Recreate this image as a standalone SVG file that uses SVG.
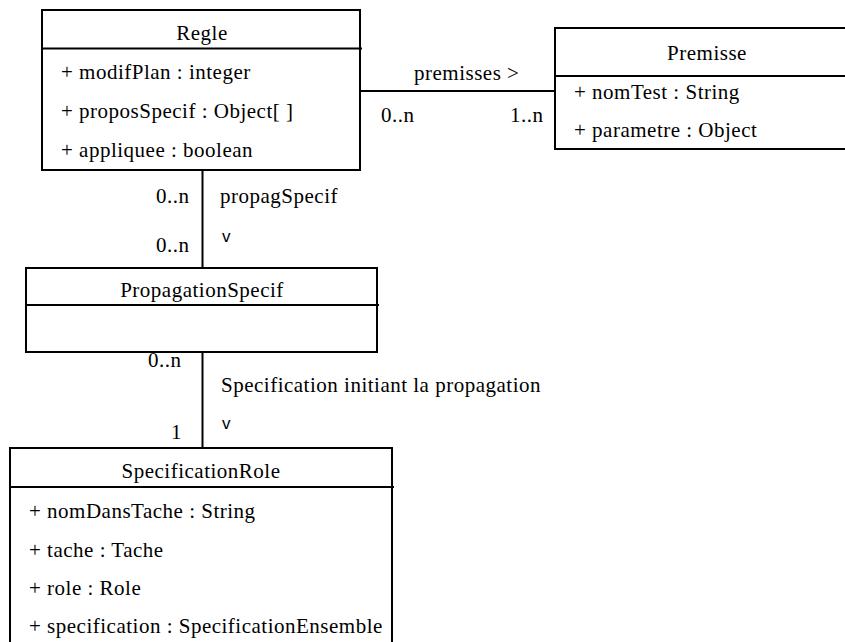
<svg xmlns="http://www.w3.org/2000/svg" width="845" height="642" viewBox="0 0 845 642">
  <style>
    .box { fill: #ffffff; stroke: #000000; stroke-width: 2; }
    .sep { stroke: #000000; stroke-width: 2; fill: none; }
    .conn { stroke: #000000; stroke-width: 2; fill: none; }
  </style>
  <rect x="0" y="0" width="845" height="642" fill="#ffffff"/>

  <g id="connectors">
    <line class="conn" x1="361" y1="91" x2="555" y2="91"/>
    <line class="conn" x1="202.5" y1="170" x2="202.5" y2="268"/>
    <line class="conn" x1="202.5" y1="353" x2="202.5" y2="448"/>
    <text style="font-family:'Liberation Serif',serif;font-size:21px;letter-spacing:0.5px" x="414" y="80">premisses &gt;</text>
    <text style="font-family:'Liberation Serif',serif;font-size:21px;letter-spacing:0.5px" x="381" y="122">0..n</text>
    <text style="font-family:'Liberation Serif',serif;font-size:21px;letter-spacing:0.5px" x="510" y="122">1..n</text>
    <text style="font-family:'Liberation Serif',serif;font-size:21px;letter-spacing:0.5px" x="156" y="203">0..n</text>
    <text style="font-family:'Liberation Serif',serif;font-size:21px;letter-spacing:0.5px" x="220" y="203">propagSpecif</text>
    <text style="font-family:'Liberation Sans',sans-serif;font-size:17px" x="222" y="242">v</text>
    <text style="font-family:'Liberation Serif',serif;font-size:21px;letter-spacing:0.5px" x="156" y="252">0..n</text>
    <text style="font-family:'Liberation Serif',serif;font-size:21px;letter-spacing:0.5px" x="148" y="367">0..n</text>
    <text style="font-family:'Liberation Serif',serif;font-size:21px;letter-spacing:0.5px" x="221" y="392">Specification initiant la propagation</text>
    <text style="font-family:'Liberation Sans',sans-serif;font-size:17px" x="222" y="429">v</text>
    <text style="font-family:'Liberation Serif',serif;font-size:21px;letter-spacing:0.5px" x="171" y="439">1</text>
  </g>

  <g id="Regle">
    <rect class="box" x="42" y="10" width="318" height="160"/>
    <line class="sep" x1="42" y1="48.5" x2="362" y2="48.5"/>
    <text style="font-family:'Liberation Serif',serif;font-size:21px;letter-spacing:0.5px;text-anchor:middle" x="202" y="40">Regle</text>
    <text style="font-family:'Liberation Serif',serif;font-size:21px;letter-spacing:0.5px" x="61" y="79">+ modifPlan : integer</text>
    <text style="font-family:'Liberation Serif',serif;font-size:21px;letter-spacing:0.5px" x="61" y="118">+ proposSpecif : Object[ ]</text>
    <text style="font-family:'Liberation Serif',serif;font-size:21px;letter-spacing:0.5px" x="61" y="157">+ appliquee : boolean</text>
  </g>

  <g id="Premisse">
    <rect class="box" x="555" y="28" width="340" height="121"/>
    <line class="sep" x1="555" y1="76" x2="895" y2="76"/>
    <text style="font-family:'Liberation Serif',serif;font-size:21px;letter-spacing:0.5px;text-anchor:middle" x="707" y="60">Premisse</text>
    <text style="font-family:'Liberation Serif',serif;font-size:21px;letter-spacing:0.5px" x="574" y="99">+ nomTest : String</text>
    <text style="font-family:'Liberation Serif',serif;font-size:21px;letter-spacing:0.5px" x="574" y="137">+ parametre : Object</text>
  </g>

  <g id="PropagationSpecif">
    <rect class="box" x="26" y="268" width="351" height="84"/>
    <line class="sep" x1="26" y1="305" x2="379" y2="305"/>
    <text style="font-family:'Liberation Serif',serif;font-size:21px;letter-spacing:0.5px;text-anchor:middle" x="202" y="297">PropagationSpecif</text>
  </g>

  <g id="SpecificationRole">
    <rect class="box" x="10" y="448" width="382" height="220"/>
    <line class="sep" x1="10" y1="487" x2="394" y2="487"/>
    <text style="font-family:'Liberation Serif',serif;font-size:21px;letter-spacing:0.5px;text-anchor:middle" x="201" y="478">SpecificationRole</text>
    <text style="font-family:'Liberation Serif',serif;font-size:21px;letter-spacing:0.5px" x="29" y="518">+ nomDansTache : String</text>
    <text style="font-family:'Liberation Serif',serif;font-size:21px;letter-spacing:0.5px" x="29" y="557">+ tache : Tache</text>
    <text style="font-family:'Liberation Serif',serif;font-size:21px;letter-spacing:0.5px" x="29" y="595">+ role : Role</text>
    <text style="font-family:'Liberation Serif',serif;font-size:21px;letter-spacing:0.5px" x="29" y="633">+ specification : SpecificationEnsemble</text>
  </g>
</svg>
